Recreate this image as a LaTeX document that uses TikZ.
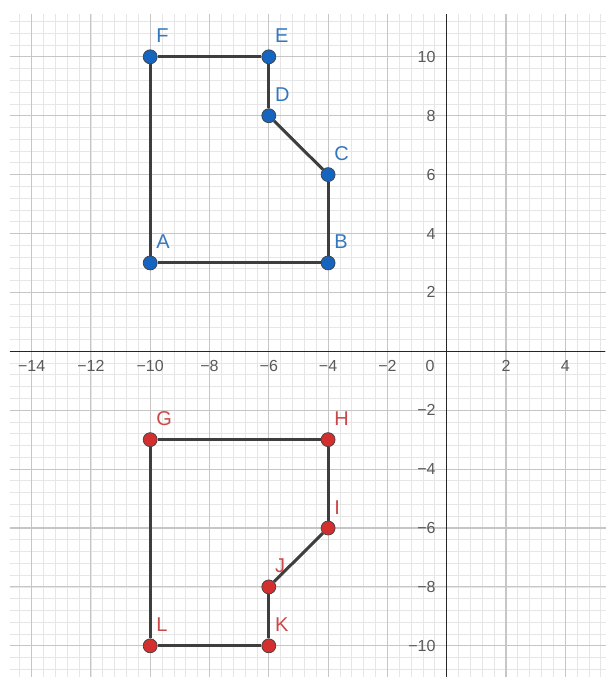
\documentclass[tikz,border=0pt]{standalone}
\usepackage{fontspec}
\setmainfont{Liberation Sans}
\definecolor{minorg}{HTML}{E6E6E6}
\definecolor{majorg}{HTML}{C6C6C6}
\definecolor{axisc}{HTML}{252525}
\definecolor{tickc}{HTML}{5A5A5A}
\definecolor{segc}{HTML}{3E3E3E}
\definecolor{bluef}{HTML}{1565C0}
\definecolor{redf}{HTML}{D32F2F}
\definecolor{bluel}{HTML}{3478BC}
\definecolor{redl}{HTML}{CC4848}
\tikzset{
  minorgrid/.style={draw=minorg, line width=0.8pt},
  majorgrid/.style={draw=majorg, line width=1.1pt},
  axisline/.style={draw=axisc, line width=1.3pt},
  ticklab/.style={text=tickc, font=\fontsize{16}{16}\selectfont, inner sep=0pt},
  seg/.style={draw=segc, line width=3pt},
  bpt/.style={circle, fill=bluef, draw=black!75, line width=0.7pt, minimum size=14pt, inner sep=0pt},
  rpt/.style={circle, fill=redf, draw=black!75, line width=0.7pt, minimum size=14pt, inner sep=0pt},
  blab/.style={text=bluel, font=\fontsize{20}{20}\selectfont, inner sep=0pt, anchor=base west},
  rlab/.style={text=redl, font=\fontsize{20}{20}\selectfont, inner sep=0pt, anchor=base west}
}
\begin{document}
\begin{tikzpicture}[x=29.65pt, y=29.45pt]
\useasboundingbox[fill=white] (-15.066,-11.059) rectangle (5.339,11.929);
\begin{scope}
  \clip (-14.73,-11.1) rectangle (5.4,11.453);
  \draw[minorgrid, step=0.4] (-15.2,-11.6) grid (5.6,11.6);
  \draw[majorgrid, step=2] (-16,-12) grid (6,12);
\end{scope}
\coordinate (xl) at (-14.73,0);
\coordinate (xr) at (5.339,0);
\coordinate (yt) at (0,11.453);
\coordinate (yb) at (0,-11.059);
\draw[axisline] (xl) -- (xr);
\draw[axisline] (yt) -- (yb);
% x tick labels
\foreach \v/\t in {-14/−14,-12/−12,-10/−10,-8/−8,-6/−6,-4/−4,-2/−2,2/2,4/4}
  \node[ticklab, anchor=base] (xt\v) at ([yshift=-20pt]\v,0) {\t};
% y tick labels
\foreach \v/\t in {10/10,8/8,6/6,4/4,2/2,-2/−2,-4/−4,-6/−6,-8/−8,-10/−10}
  \node[ticklab, anchor=east] (yt\v) at ([xshift=-11pt]0,\v) {\t};
\node[ticklab, anchor=base east] (zero) at ([xshift=-12pt, yshift=-20pt]0,0) {0};
% blue polygon
\node[bpt] (A) at (-10,3) {};
\node[bpt] (B) at (-4,3) {};
\node[bpt] (C) at (-4,6) {};
\node[bpt] (D) at (-6,8) {};
\node[bpt] (E) at (-6,10) {};
\node[bpt] (F) at (-10,10) {};
\draw[seg] (A) -- (B);
\draw[seg] (B) -- (C);
\draw[seg] (C) -- (D);
\draw[seg] (D) -- (E);
\draw[seg] (E) -- (F);
\draw[seg] (F) -- (A);
\foreach \p in {A,B,C,D,E,F}
  \node[blab] (lab\p) at ([xshift=6pt, yshift=14pt]\p.center) {\p};
% red polygon
\node[rpt] (G) at (-10,-3) {};
\node[rpt] (H) at (-4,-3) {};
\node[rpt] (I) at (-4,-6) {};
\node[rpt] (J) at (-6,-8) {};
\node[rpt] (K) at (-6,-10) {};
\node[rpt] (L) at (-10,-10) {};
\draw[seg] (G) -- (H);
\draw[seg] (H) -- (I);
\draw[seg] (I) -- (J);
\draw[seg] (J) -- (K);
\draw[seg] (K) -- (L);
\draw[seg] (L) -- (G);
\foreach \p in {G,H,I,J,K,L}
  \node[rlab] (lab\p) at ([xshift=6pt, yshift=14pt]\p.center) {\p};
\end{tikzpicture}
\end{document}
